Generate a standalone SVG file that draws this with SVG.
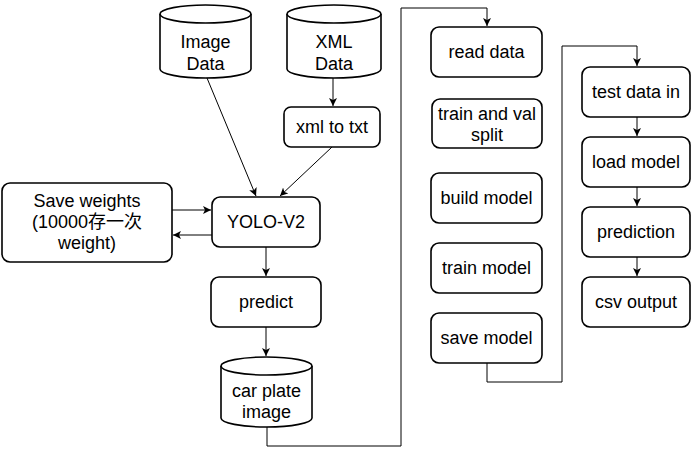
<svg xmlns="http://www.w3.org/2000/svg" width="693" height="456" viewBox="0 0 693 456">
<style>
.b{fill:#fff;stroke:#000;stroke-width:1.6}
.c{fill:none;stroke:#000;stroke-width:1}
text{font-family:"Liberation Sans",Arial,"Noto Sans CJK SC",sans-serif;font-size:18px;fill:#000;text-anchor:middle}
</style>
<defs>
<marker id="a" markerWidth="10" markerHeight="10" refX="8" refY="4" orient="auto" markerUnits="userSpaceOnUse">
<path d="M0,0 L8,4 L0,8 L2,4 Z" fill="#000"/>
</marker>
</defs>
<rect width="693" height="456" fill="#fff"/>
<g id="connectors">
<path class="c" d="M333,78 V106" marker-end="url(#a)"/>
<path class="c" d="M207,78 L256,196" marker-end="url(#a)"/>
<path class="c" d="M332,147 L280,196" marker-end="url(#a)"/>
<path class="c" d="M172,210 H211" marker-end="url(#a)"/>
<path class="c" d="M212,235 H173" marker-end="url(#a)"/>
<path class="c" d="M266,247 V276" marker-end="url(#a)"/>
<path class="c" d="M266,327 V356" marker-end="url(#a)"/>
<path class="c" d="M267,427 V446 H401 V8 H487 V26" marker-end="url(#a)"/>
<path class="c" d="M487,363 V382 H562 V46 H637 V66" marker-end="url(#a)"/>
<path class="c" d="M637,117 V136" marker-end="url(#a)"/>
<path class="c" d="M637,187 V206" marker-end="url(#a)"/>
<path class="c" d="M637,257 V276" marker-end="url(#a)"/>
</g>
<g id="image-data">
<path class="b" d="M160,14 A45.5,9 0 0 1 251,14 V69 A45.5,9 0 0 1 160,69 Z"/>
<path class="b" d="M160,14 A45.5,9 0 0 0 251,14" fill="none"/>
<text x="205.5" y="48">Image</text>
<text x="205.5" y="70">Data</text>
</g>
<g id="xml-data">
<path class="b" d="M287,14 A47,9 0 0 1 381,14 V69 A47,9 0 0 1 287,69 Z"/>
<path class="b" d="M287,14 A47,9 0 0 0 381,14" fill="none"/>
<text x="334" y="48">XML</text>
<text x="334" y="70">Data</text>
</g>
<g id="xml-to-txt">
<rect class="b" x="284" y="107" width="96" height="40" rx="7"/>
<text x="332" y="133">xml to txt</text>
</g>
<g id="save-weights">
<rect class="b" x="2" y="183" width="170" height="79" rx="8"/>
<text x="87" y="207">Save weights</text>
<text x="87" y="228">(10000存一次</text>
<text x="87" y="249">weight)</text>
</g>
<g id="yolo">
<rect class="b" x="212" y="197" width="108" height="50" rx="8"/>
<text x="266" y="228">YOLO-V2</text>
</g>
<g id="predict">
<rect class="b" x="211" y="277" width="110" height="50" rx="8"/>
<text x="266" y="308">predict</text>
</g>
<g id="car-plate-image">
<path class="b" d="M221,366 A45.5,9 0 0 1 312,366 V418 A45.5,9 0 0 1 221,418 Z"/>
<path class="b" d="M221,366 A45.5,9 0 0 0 312,366" fill="none"/>
<text x="266.5" y="397">car plate</text>
<text x="266.5" y="418">image</text>
</g>
<g id="read-data">
<rect class="b" x="431" y="27" width="111" height="50" rx="8"/>
<text x="486.5" y="58">read data</text>
</g>
<g id="train-val-split">
<rect class="b" x="432" y="99" width="110" height="49" rx="8"/>
<text x="487" y="120">train and val</text>
<text x="487" y="141">split</text>
</g>
<g id="build-model">
<rect class="b" x="431" y="173" width="111" height="50" rx="8"/>
<text x="486.5" y="204">build model</text>
</g>
<g id="train-model">
<rect class="b" x="431" y="243" width="111" height="50" rx="8"/>
<text x="486.5" y="274">train model</text>
</g>
<g id="save-model">
<rect class="b" x="431" y="313" width="111" height="50" rx="8"/>
<text x="486.5" y="344">save model</text>
</g>
<g id="test-data-in">
<rect class="b" x="582" y="67" width="108" height="50" rx="8"/>
<text x="636" y="98">test data in</text>
</g>
<g id="load-model">
<rect class="b" x="582" y="137" width="108" height="50" rx="8"/>
<text x="636" y="168">load model</text>
</g>
<g id="prediction">
<rect class="b" x="582" y="207" width="108" height="50" rx="8"/>
<text x="636" y="238">prediction</text>
</g>
<g id="csv-output">
<rect class="b" x="582" y="277" width="108" height="50" rx="8"/>
<text x="636" y="308">csv output</text>
</g>
</svg>
